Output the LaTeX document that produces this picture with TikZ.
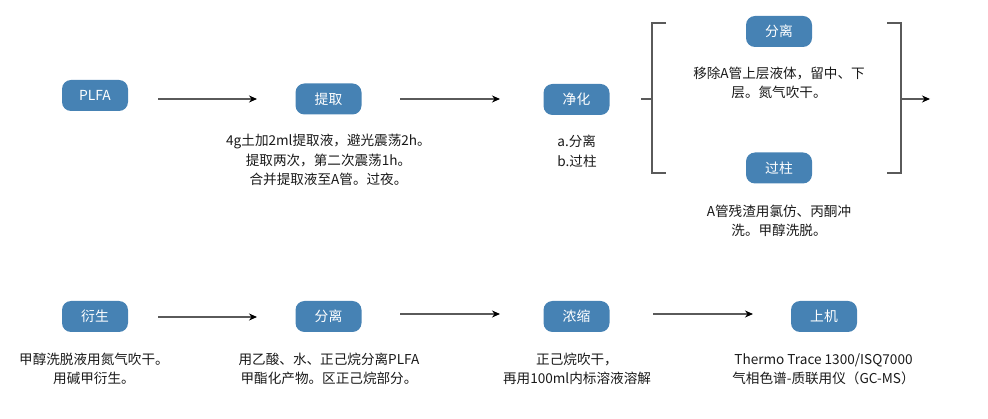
\documentclass[tikz,border=0pt]{standalone}
\usepackage{fontspec}
\setmainfont{Noto Sans CJK SC}
\usetikzlibrary{arrows.meta}
\definecolor{boxblue}{RGB}{70,130,180}
\definecolor{linegray}{RGB}{90,90,90}
\tikzset{
  stepbox/.style={draw=none, fill=boxblue, rounded corners=9pt, minimum width=66pt, minimum height=31pt, inner sep=0pt, text=white, font=\fontsize{13.8}{16}\selectfont},
  desc/.style={align=center, inner sep=0pt, font=\fontsize{13.6}{19.5}\selectfont, text=black!90},
  arr/.style={draw=linegray, line width=1.1pt, -{Stealth[length=8pt,width=7pt,color=black]}},
  brk/.style={draw=linegray, line width=1.2pt}
}
\begin{document}
\begin{tikzpicture}[x=1pt,y=-1pt]
\useasboundingbox (0,0) rectangle (988,419);
% row 1
\node[stepbox] (plfa) at (95,95.5) {PLFA};
\node[stepbox] (tiqu) at (328.5,99) {提取};
\node[stepbox] (jinghua) at (576.5,99.5) {净化};
\node[desc] (tiqut) at (328.5,160) {4g土加2ml提取液，避光震荡2h。\\提取两次，第二次震荡1h。\\合并提取液至A管。过夜。};
\node[desc, align=left] (jht) at (577,151.5) {a.分离\\b.过柱};
\node[stepbox] (fenli1) at (779,31.5) {分离};
\node[desc] (fl1t) at (779,83) {移除A管上层液体，留中、下\\层。氮气吹干。};
\node[stepbox] (guozhu) at (779,168) {过柱};
\node[desc] (gzt) at (779,221) {A管残渣用氯仿、丙酮冲\\洗。甲醇洗脱。};
\coordinate (a1s) at (158,99);
\coordinate (a1e) at (257,99);
\coordinate (a2s) at (400,99);
\coordinate (a2e) at (500,99);
\draw[arr] (a1s) -- (a1e);
\draw[arr] (a2s) -- (a2e);
% bracket
\coordinate (bl) at (652,99);
\coordinate (br) at (901,99);
\coordinate (bout) at (930,99);
\draw[brk] (641,99) -- (bl);
\draw[brk] (666,23) -- (652,23) -- (652,173) -- (666,173);
\draw[brk] (887,23) -- (901,23) -- (901,173) -- (887,173);
\draw[arr] (br) -- (bout);
% row 2
\node[stepbox] (yansheng) at (95,316.5) {衍生};
\node[stepbox] (fenli2) at (328.5,316.5) {分离};
\node[stepbox] (nongsuo) at (576.5,316.5) {浓缩};
\node[stepbox] (shangji) at (824,316.5) {上机};
\node[desc] (yst) at (94,369) {甲醇洗脱液用氮气吹干。\\用碱甲衍生。};
\node[desc] (fl2t) at (329,369) {用乙酸、水、正己烷分离PLFA\\甲酯化产物。区正己烷部分。};
\node[desc] (nst) at (577,369) {正己烷吹干，\\再用100ml内标溶液溶解};
\node[desc] (sjt) at (823.5,369) {Thermo Trace 1300/ISQ7000\\气相色谱-质联用仪（GC-MS）};
\coordinate (b1s) at (158,317);
\coordinate (b1e) at (257,317);
\coordinate (b2s) at (400,314);
\coordinate (b2e) at (500,314);
\coordinate (b3s) at (653,314);
\coordinate (b3e) at (753,314);
\draw[arr] (b1s) -- (b1e);
\draw[arr] (b2s) -- (b2e);
\draw[arr] (b3s) -- (b3e);
\end{tikzpicture}
\end{document}
